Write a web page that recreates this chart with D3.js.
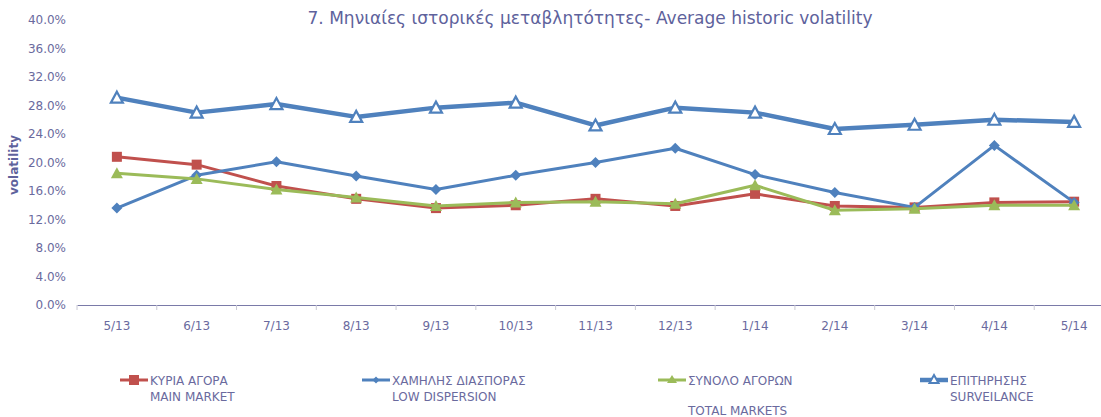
<!DOCTYPE html>
<html>
<head>
<meta charset="utf-8">
<script src="https://cdn.jsdelivr.net/npm/d3@7"></script>
<style>
  body { margin: 0; background: #fff; }
  svg { font-family: Tahoma, "DejaVu Sans", sans-serif; }
</style>
</head>
<body>
<div id="chart"></div>
<script>
// months on the x axis
var months = ["5/13","6/13","7/13","8/13","9/13","10/13","11/13","12/13","1/14","2/14","3/14","4/14","5/14"];
var yTicks = [0, 4, 8, 12, 16, 20, 24, 28, 32, 36, 40];

// volatility, in %
var mainMarket     = [20.8, 19.7, 16.7, 14.9, 13.6, 14.0, 14.9, 13.9, 15.6, 13.9, 13.7, 14.4, 14.5];
var lowDispersion  = [13.6, 18.2, 20.1, 18.1, 16.2, 18.2, 20.0, 22.0, 18.3, 15.8, 13.7, 22.4, 14.4];
var totalMarkets   = [18.5, 17.7, 16.2, 15.1, 13.9, 14.4, 14.5, 14.2, 16.8, 13.3, 13.5, 14.0, 14.0];
var surveillance   = [29.1, 27.0, 28.2, 26.4, 27.7, 28.4, 25.2, 27.7, 27.0, 24.7, 25.3, 26.0, 25.7];

var W = 1101, H = 417;
var txtColor = "#6a6a9e";

var svg = d3.select("#chart").append("svg")
    .attr("width", W).attr("height", H);

var x = d3.scaleBand().domain(months).range([77, 1114]);
var y = d3.scaleLinear().domain([0, 40]).range([305, 20]);

// title
svg.append("text")
    .attr("x", 590).attr("y", 24)
    .attr("text-anchor", "middle")
    .attr("fill", "#5e629c")
    .style("font-size", "18px")
    .attr("textLength", 565)
    .attr("lengthAdjust", "spacingAndGlyphs")
    .text("7. Μηνιαίες ιστορικές μεταβλητότητες- Average historic volatility");

// y axis labels
svg.append("g")
    .attr("transform", "translate(66,0)")
    .call(d3.axisLeft(y).tickValues(yTicks).tickSize(0).tickPadding(0)
        .tickFormat(function(d){ return d.toFixed(1) + "%"; }))
    .call(g => g.select(".domain").remove())
    .call(g => g.selectAll("text").attr("fill", txtColor).style("font-size", "12px")
        .style("font-family", 'Tahoma, "DejaVu Sans", sans-serif'));

svg.append("text")
    .attr("transform", "translate(18,165) rotate(-90)")
    .attr("text-anchor", "middle")
    .attr("fill", "#5e629c")
    .style("font-size", "12px")
    .style("font-weight", "bold")
    .text("volatility");

// x axis
var xAxis = svg.append("g")
    .attr("transform", "translate(0,305)")
    .call(d3.axisBottom(x).tickSize(0).tickPadding(16))
    .call(g => g.select(".domain").attr("stroke", "#7a7aa8").attr("stroke-width", 1.2))
    .call(g => g.selectAll("text").attr("fill", txtColor).style("font-size", "12px")
        .style("font-family", 'Tahoma, "DejaVu Sans", sans-serif'));

xAxis.selectAll(".edge")
    .data(months)
    .enter().append("line")
    .attr("x1", d => x(d)).attr("x2", d => x(d))
    .attr("y1", 0).attr("y2", 5)
    .attr("stroke", "#c8c8d4");

var series = [
  { name1: "ΚΥΡΙΑ ΑΓΟΡΑ", name2: "MAIN MARKET", values: mainMarket, color: "#c0504d", width: 3, marker: "square", lx: 120, ly2: 396 },
  { name1: "ΧΑΜΗΛΗΣ ΔΙΑΣΠΟΡΑΣ", name2: "LOW DISPERSION", values: lowDispersion, color: "#4f81bd", width: 3, marker: "diamond", lx: 362, ly2: 396 },
  { name1: "ΣΥΝΟΛΟ ΑΓΟΡΩΝ", name2: "TOTAL MARKETS", values: totalMarkets, color: "#9bbb59", width: 3, marker: "triangle", lx: 658, ly2: 410 },
  { name1: "ΕΠΙΤΗΡΗΣΗΣ", name2: "SURVEILANCE", values: surveillance, color: "#4f81bd", width: 4.5, marker: "openTriangle", lx: 920, ly2: 396 }
];

var cx = d => x(d) + x.bandwidth() / 2;

function drawMarker(g, type, color) {
  if (type == "square") {
    g.append("rect").attr("x", -5).attr("y", -5).attr("width", 10).attr("height", 10).attr("fill", color);
  } else if (type == "diamond") {
    g.append("path").attr("d", "M0,-5.5L5.5,0L0,5.5L-5.5,0Z").attr("fill", color);
  } else if (type == "triangle") {
    g.append("path").attr("d", "M0,-6L6,5L-6,5Z").attr("fill", color);
  } else {
    g.append("path").attr("d", "M0,-6L6,5L-6,5Z").attr("fill", "#fff")
      .attr("stroke", color).attr("stroke-width", 2.2).attr("stroke-linejoin", "miter");
  }
}

var line = d3.line().x((d, i) => cx(months[i])).y(d => y(d));

series.forEach(function(s) {
  svg.append("path")
    .datum(s.values)
    .attr("d", line)
    .attr("fill", "none")
    .attr("stroke", s.color)
    .attr("stroke-width", s.width)
    .attr("stroke-linejoin", "round");

  s.values.forEach(function(v, i) {
    var g = svg.append("g").attr("transform", "translate(" + cx(months[i]) + "," + y(v) + ")");
    drawMarker(g, s.marker, s.color);
  });

  // legend
  var lg = svg.append("g").attr("transform", "translate(" + s.lx + ",380)");
  lg.append("line").attr("x1", 0).attr("x2", 28).attr("y1", 0).attr("y2", 0)
    .attr("stroke", s.color).attr("stroke-width", s.width);
  var mg = lg.append("g").attr("transform", "translate(14,0)");
  if (s.marker == "openTriangle") {
    mg.append("path").attr("d", "M0,-5L4.5,3L-4.5,3Z").attr("fill", "#fff")
      .attr("stroke", s.color).attr("stroke-width", 2);
  } else if (s.marker == "diamond") {
    mg.append("path").attr("d", "M0,-3.5L3.5,0L0,3.5L-3.5,0Z").attr("fill", s.color);
  } else if (s.marker == "square") {
    mg.append("rect").attr("x", -5).attr("y", -5).attr("width", 10).attr("height", 10).attr("fill", s.color);
  } else {
    mg.append("path").attr("d", "M0,-5L5,3L-5,3Z").attr("fill", s.color);
  }
  lg.append("text").attr("x", 30).attr("y", 5).attr("fill", txtColor)
    .style("font-size", "12px").text(s.name1);
  lg.append("text").attr("x", 30).attr("y", s.ly2 - 380 + 5).attr("fill", txtColor)
    .style("font-size", "12px").text(s.name2);
});
</script>
</body>
</html>
